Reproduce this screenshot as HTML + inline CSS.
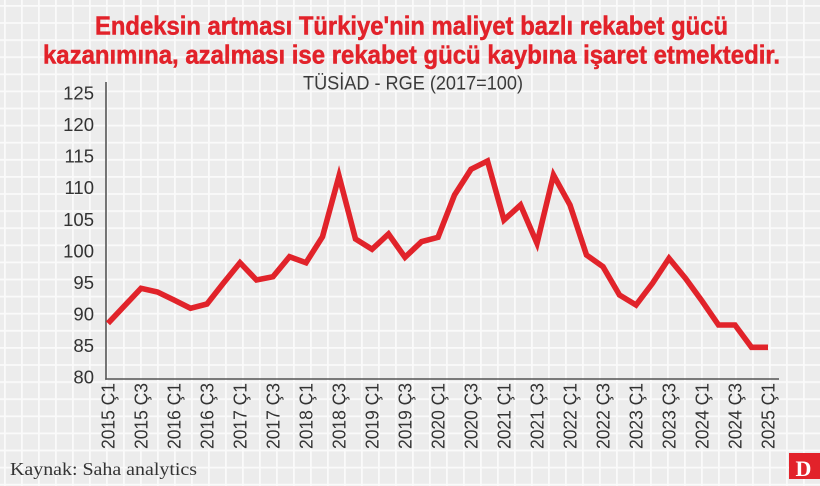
<!DOCTYPE html>
<html>
<head>
<meta charset="utf-8">
<style>
  html, body { margin: 0; padding: 0; background: #ededed; }
  svg { display: block; }
</style>
</head>
<body>
<svg width="820" height="486" viewBox="0 0 820 486" xmlns="http://www.w3.org/2000/svg">
  <defs>
    <pattern id="grid" x="4" y="5" width="17" height="17.1" patternUnits="userSpaceOnUse">
      <rect x="0" y="0" width="17" height="17.1" fill="#ececec"/>
      <rect x="0" y="0" width="1.8" height="17.1" fill="#fafafa"/>
      <rect x="0" y="0" width="17" height="1.8" fill="#fafafa"/>
    </pattern>
  </defs>
  <rect x="0" y="0" width="820" height="486" fill="url(#grid)"/>

  <!-- Title -->
  <g font-family="'Liberation Sans', sans-serif" font-weight="bold" font-size="26" fill="#e2222a" stroke="#e2222a" stroke-width="0.5">
    <text x="95" y="34.5" textLength="633" lengthAdjust="spacingAndGlyphs">Endeksin artması Türkiye'nin maliyet bazlı rekabet gücü</text>
    <text x="43" y="63.5" textLength="737" lengthAdjust="spacingAndGlyphs">kazanımına, azalması ise rekabet gücü kaybına işaret etmektedir.</text>
  </g>
  <text x="303" y="89.3" font-family="'Liberation Sans', sans-serif" font-size="19" fill="#3a3a3a" textLength="220" lengthAdjust="spacingAndGlyphs">TÜSİAD - RGE (2017=100)</text>

  <!-- Y labels -->
  <g font-family="'Liberation Sans', sans-serif" font-size="18.5" fill="#333" text-anchor="end">
    <text x="94" y="383.5">80</text>
    <text x="94" y="352.0">85</text>
    <text x="94" y="320.4">90</text>
    <text x="94" y="288.9">95</text>
    <text x="94" y="257.3">100</text>
    <text x="94" y="225.8">105</text>
    <text x="94" y="194.2">110</text>
    <text x="94" y="162.7">115</text>
    <text x="94" y="131.1">120</text>
    <text x="94" y="99.6">125</text>
  </g>

  <!-- Axes -->
  <line x1="106" y1="82" x2="106" y2="379.7" stroke="#555" stroke-width="1.6"/>
  <line x1="105.2" y1="379" x2="779" y2="379" stroke="#555" stroke-width="1.6"/>

  <!-- Data line -->
  <polyline fill="none" stroke="#e1232a" stroke-width="5.6" stroke-linejoin="miter" stroke-miterlimit="6" stroke-linecap="butt"
    points="108,323.3 124.5,305.8 141,288.3 157.5,292 174,300 190.5,308.3 207,304 223.5,283 240,262.7 256.5,280 273,276.7 289.5,256.7 306,262.7 322.5,236.7 339,176 355.5,239 372,249.3 388.5,234 405,257.3 421.5,241.7 438,237.3 454.5,195 471,169.3 487.5,161 504,220 520.5,205 537,243.3 553.5,175 570,205 586.5,255 603,266.7 619.5,295 636,305 652.5,283.3 669,258.3 685.5,278.3 702,301 718.5,325 735,325 751.5,347.3 768,347.3"/>

  <!-- X labels -->
  <g font-family="'Liberation Sans', sans-serif" font-size="18" fill="#333" text-anchor="end">
    <text transform="translate(114.5,383) rotate(-90)" textLength="66" lengthAdjust="spacingAndGlyphs">2015 Ç1</text>
    <text transform="translate(147.5,383) rotate(-90)" textLength="66" lengthAdjust="spacingAndGlyphs">2015 Ç3</text>
    <text transform="translate(180.5,383) rotate(-90)" textLength="66" lengthAdjust="spacingAndGlyphs">2016 Ç1</text>
    <text transform="translate(213.5,383) rotate(-90)" textLength="66" lengthAdjust="spacingAndGlyphs">2016 Ç3</text>
    <text transform="translate(246.5,383) rotate(-90)" textLength="66" lengthAdjust="spacingAndGlyphs">2017 Ç1</text>
    <text transform="translate(279.5,383) rotate(-90)" textLength="66" lengthAdjust="spacingAndGlyphs">2017 Ç3</text>
    <text transform="translate(312.5,383) rotate(-90)" textLength="66" lengthAdjust="spacingAndGlyphs">2018 Ç1</text>
    <text transform="translate(345.5,383) rotate(-90)" textLength="66" lengthAdjust="spacingAndGlyphs">2018 Ç3</text>
    <text transform="translate(378.5,383) rotate(-90)" textLength="66" lengthAdjust="spacingAndGlyphs">2019 Ç1</text>
    <text transform="translate(411.5,383) rotate(-90)" textLength="66" lengthAdjust="spacingAndGlyphs">2019 Ç3</text>
    <text transform="translate(444.5,383) rotate(-90)" textLength="66" lengthAdjust="spacingAndGlyphs">2020 Ç1</text>
    <text transform="translate(477.5,383) rotate(-90)" textLength="66" lengthAdjust="spacingAndGlyphs">2020 Ç3</text>
    <text transform="translate(510.5,383) rotate(-90)" textLength="66" lengthAdjust="spacingAndGlyphs">2021 Ç1</text>
    <text transform="translate(543.5,383) rotate(-90)" textLength="66" lengthAdjust="spacingAndGlyphs">2021 Ç3</text>
    <text transform="translate(576.5,383) rotate(-90)" textLength="66" lengthAdjust="spacingAndGlyphs">2022 Ç1</text>
    <text transform="translate(609.5,383) rotate(-90)" textLength="66" lengthAdjust="spacingAndGlyphs">2022 Ç3</text>
    <text transform="translate(642.5,383) rotate(-90)" textLength="66" lengthAdjust="spacingAndGlyphs">2023 Ç1</text>
    <text transform="translate(675.5,383) rotate(-90)" textLength="66" lengthAdjust="spacingAndGlyphs">2023 Ç3</text>
    <text transform="translate(708.5,383) rotate(-90)" textLength="66" lengthAdjust="spacingAndGlyphs">2024 Ç1</text>
    <text transform="translate(741.5,383) rotate(-90)" textLength="66" lengthAdjust="spacingAndGlyphs">2024 Ç3</text>
    <text transform="translate(774.5,383) rotate(-90)" textLength="66" lengthAdjust="spacingAndGlyphs">2025 Ç1</text>
  </g>

  <!-- Source -->
  <text x="10" y="475" font-family="'Liberation Serif', serif" font-size="18" fill="#333" textLength="187" lengthAdjust="spacingAndGlyphs">Kaynak: Saha analytics</text>

  <!-- Logo -->
  <rect x="789" y="453" width="31" height="26" fill="#e2222a"/>
  <text x="803.5" y="476" font-family="'Liberation Serif', serif" font-weight="bold" font-size="22" fill="#ffffff" text-anchor="middle">D</text>
</svg>
</body>
</html>
